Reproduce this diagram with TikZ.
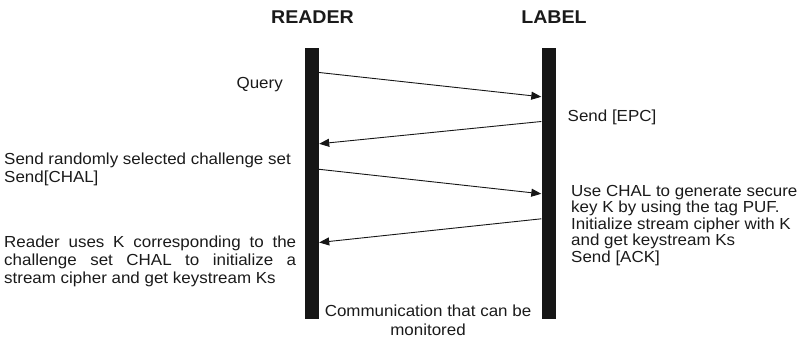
\documentclass[tikz,border=0pt]{standalone}
\usepackage{fontspec}
\setmainfont{Liberation Sans}[FakeStretch=1.06]
\usepackage{tikz}
\usetikzlibrary{arrows.meta,calc}
\definecolor{bar}{HTML}{161616}
\definecolor{ink}{HTML}{1A1A1A}
\tikzset{
  lifeline/.style={fill=bar, draw=none, minimum width=14pt, minimum height=271pt, inner sep=0pt},
  actor/.style={font=\fontsize{18.5}{20}\selectfont\bfseries, text=ink, inner sep=0pt},
  note/.style={font=\fontsize{16}{18.3}\selectfont, text=ink, inner sep=0pt, align=left},
  tnote/.style={note, font=\fontsize{16}{16.6}\selectfont},
  msg/.style={-{Triangle[length=10pt, width=8pt]}, line width=0.9pt, draw=bar},
}

\begin{document}
\begin{tikzpicture}[x=1pt, y=-1pt]
  \useasboundingbox (0,0) rectangle (799,337);

  % --- lifelines
  \node[lifeline] (rdr) at (312,183.5) {};
  \node[lifeline] (lbl) at (548.5,183.5) {};
  \node[actor, anchor=base] (rdrT) at (312.5,23.3) {READER};
  \node[actor, anchor=base] (lblT) at (554,23.3) {LABEL};

  % --- message ends
  \coordinate (m1a) at ([yshift=-24.7pt]rdr.north east);
  \coordinate (m1b) at ([yshift=-49pt]lbl.north west);
  \coordinate (m2a) at ([yshift=-73.7pt]lbl.north west);
  \coordinate (m2b) at ([yshift=-96pt]rdr.north east);
  \coordinate (m3a) at ([yshift=-121.5pt]rdr.north east);
  \coordinate (m3b) at ([yshift=-146pt]lbl.north west);
  \coordinate (m4a) at ([yshift=-171pt]lbl.north west);
  \coordinate (m4b) at ([yshift=-194.7pt]rdr.north east);

  % --- texts (base = last line for the multi-line ones)
  \node[note, anchor=base east] (qry) at (283,88) {Query};
  \node[note, anchor=base west] (epc) at (567.5,121.7) {Send [EPC]};
  \node[note, anchor=base west] (chal) at (4,182.5) {Send randomly selected challenge set\\Send[CHAL]};
  \node[tnote, anchor=base west] (puf) at (571,262.4) {Use CHAL to generate secure\\key K by using the tag PUF.\\
        Initialize stream cipher with K\\and get keystream Ks\\Send [ACK]};
  \node[note, anchor=base west, text width=292pt, align=justify] (keys) at (4,247)
        {Reader uses K corresponding to the\linebreak challenge set CHAL to initialize a\linebreak
         stream cipher and get keystream Ks};
  \node[note, anchor=base, align=center, font=\fontsize{16}{19}\selectfont] (mon) at (428,335)
        {Communication that can be\\monitored};

  % --- messages
  \draw[msg] (m1a) -- (m1b);
  \draw[msg] (m2a) -- (m2b);
  \draw[msg] (m3a) -- (m3b);
  \draw[msg] (m4a) -- (m4b);
\end{tikzpicture}
\end{document}
